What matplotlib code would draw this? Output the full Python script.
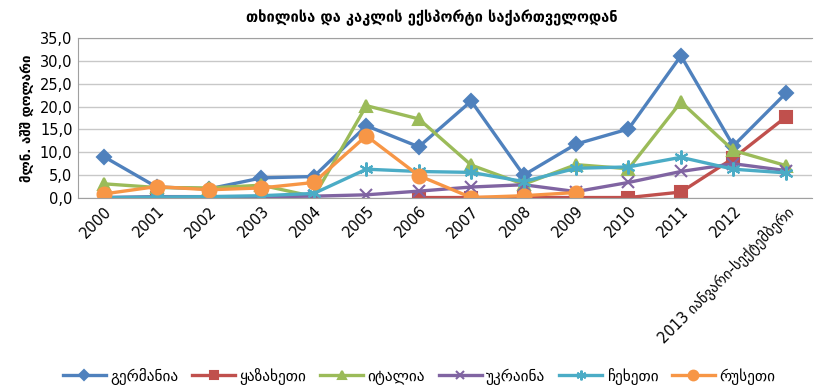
import matplotlib.pyplot as plt
import numpy as np

plt.rcParams['font.family'] = ['DejaVu Sans']

# მონაცემები (მლნ. აშშ დოლარი)
years = ['2000', '2001', '2002', '2003', '2004', '2005', '2006', '2007',
         '2008', '2009', '2010', '2011', '2012', '2013 იანვარი-სექტემბერი']
germany = [9.0, 2.4, 2.0, 4.4, 4.7, 15.8, 11.2, 21.2, 5.0, 11.8, 15.1, 31.1, 11.4, 22.9]
kazakhstan = [np.nan, 0.0, np.nan, np.nan, np.nan, np.nan, 0.1, 0.1, 0.1, 0.1, 0.1, 1.3, 8.7, 17.7]
italy = [3.1, 2.3, 2.2, 2.8, 0.3, 20.2, 17.3, 7.2, 3.0, 7.3, 6.4, 21.0, 10.4, 7.1]
ukraine = [0.1, 0.3, 0.3, 0.3, 0.4, 0.7, 1.5, 2.4, 2.9, 1.4, 3.4, 5.8, 7.5, 6.0]
czech = [0.1, 0.2, 0.3, 0.5, 1.0, 6.3, 5.8, 5.6, 3.6, 6.5, 6.8, 8.9, 6.3, 5.5]
russia = [0.9, 2.5, 1.8, 2.2, 3.4, 13.6, 4.9, 0.1, 0.5, 1.2, np.nan, np.nan, np.nan, np.nan]

series = [
    ('გერმანია', germany, '#4F81BD', 'D', 7),
    ('ყაზახეთი', kazakhstan, '#C0504D', 's', 8),
    ('იტალია', italy, '#9BBB59', '^', 8),
    ('უკრაინა', ukraine, '#8064A2', 'x', 8),
    ('ჩეხეთი', czech, '#4BACC6', (6, 2, 0), 10),
    ('რუსეთი', russia, '#F79646', 'o', 10),
]

fig = plt.figure(figsize=(8.14, 3.89), dpi=100)
ax = fig.add_axes([78 / 814, 1 - 198 / 389, 734 / 814, 160 / 389])

x = np.arange(len(years))
for name, vals, color, marker, ms in series:
    ax.plot(x, vals, color=color, lw=2.4, marker=marker, markersize=ms,
            markeredgewidth=1.5, label=name)

ax.set_xlim(-0.5, len(years) - 0.5)
ax.set_ylim(0, 35)
ax.set_yticks(np.arange(0, 36, 5))
ax.set_yticklabels([f'{v:.1f}'.replace('.', ',') for v in np.arange(0, 36, 5)], fontsize=10.5)
ax.set_xticks(x)
ax.set_xticklabels(years, rotation=45, ha='right', rotation_mode='anchor', fontsize=10.5)
ax.tick_params(length=0, pad=4)
ax.grid(axis='y', color='#c8c8c8', lw=1)
ax.set_axisbelow(True)
for s in ax.spines.values():
    s.set_color('#a0a0a0')
ax.spines['right'].set_visible(False)

ax.set_ylabel('მლნ. აშშ დოლარი', fontsize=9.5, fontweight='bold', labelpad=4)
fig.text(0.53, 0.955, 'თხილისა და კაკლის ექსპორტი საქართველოდან',
         ha='center', va='center', fontsize=10.5, fontweight='bold')

fig.legend(loc='center', bbox_to_anchor=(0.515, 0.033), ncol=6, frameon=False,
           fontsize=11, handlelength=2.8, columnspacing=0.9, handletextpad=0.3,
           markerscale=0.7)

fig.savefig('out.png', dpi=100)
